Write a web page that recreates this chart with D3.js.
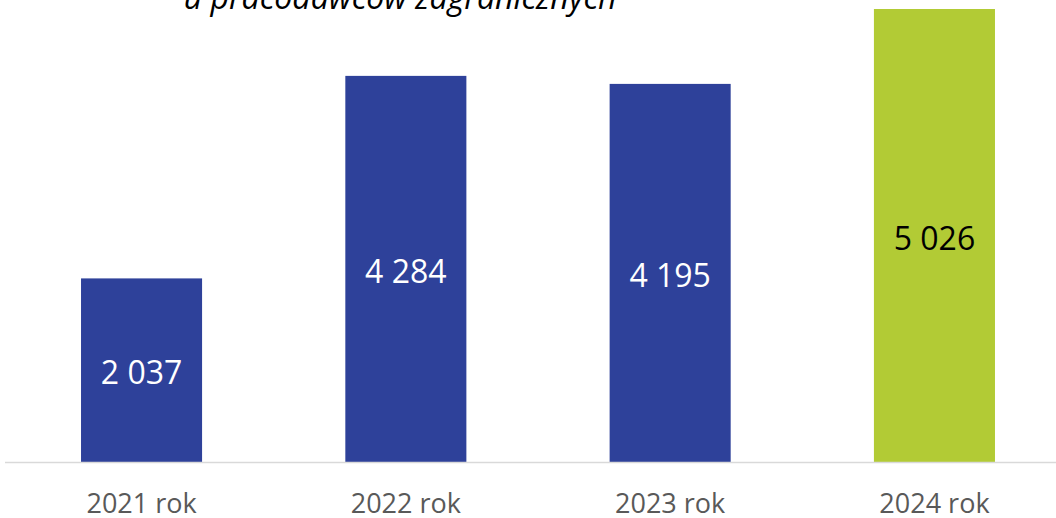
<!DOCTYPE html>
<html><head><meta charset="utf-8">
<script src="https://cdn.jsdelivr.net/npm/d3@7"></script>
<style>body{margin:0;background:#fff}svg{display:block}</style>
</head><body>
<svg id="c" width="1056" height="518"></svg>
<script>
const categories = ["2021 rok", "2022 rok", "2023 rok", "2024 rok"];
const values = [2037, 4284, 4195, 5026];
const valueLabels = ["2 037", "4 284", "4 195", "5 026"];
const barColors = ["#2e419a", "#2e419a", "#2e419a", "#b2cb35"];
const labelColors = ["#ffffff", "#ffffff", "#ffffff", "#000000"];
const titleText = "u pracodawców zagranicznych";

const svg = d3.select("#c");
const x = d3.scaleBand().domain(categories).range([9.4, 1066.6]).paddingInner(0.542).paddingOuter(0.271);
const y = d3.scaleLinear().domain([0, 5026]).range([462, 9]);

svg.append("text").attr("x", 400).attr("y", 8.5).attr("text-anchor", "middle")
  .attr("font-family", "Open Sans").attr("font-style", "italic").attr("font-size", 32)
  .attr("fill", "#000").text(titleText);

svg.selectAll("rect.bar").data(values).enter().append("rect")
  .attr("x", (d, i) => x(categories[i])).attr("width", x.bandwidth())
  .attr("y", d => y(d)).attr("height", d => y(0) - y(d))
  .attr("fill", (d, i) => barColors[i]);

svg.append("line").attr("x1", 5).attr("x2", 1056).attr("y1", y(0) + 0.5).attr("y2", y(0) + 0.5)
  .attr("stroke", "#d9d9d9").attr("stroke-width", 1.5);

svg.selectAll("text.val").data(values).enter().append("text")
  .attr("x", (d, i) => x(categories[i]) + x.bandwidth() / 2)
  .attr("y", d => (y(d) + y(0)) / 2 + 14)
  .attr("text-anchor", "middle").attr("font-family", "Open Sans").attr("font-size", 32)
  .attr("fill", (d, i) => labelColors[i]).text((d, i) => valueLabels[i]);

const xAxis = d3.axisBottom(x).tickSize(0).tickPadding(0);
const g = svg.append("g").attr("transform", `translate(0,${y(0)})`).call(xAxis);
g.select(".domain").remove();
g.selectAll("text").attr("font-family", "Open Sans").attr("font-size", 27).attr("fill", "#595959")
  .attr("dy", null).attr("y", 51);
</script>
</body></html>
